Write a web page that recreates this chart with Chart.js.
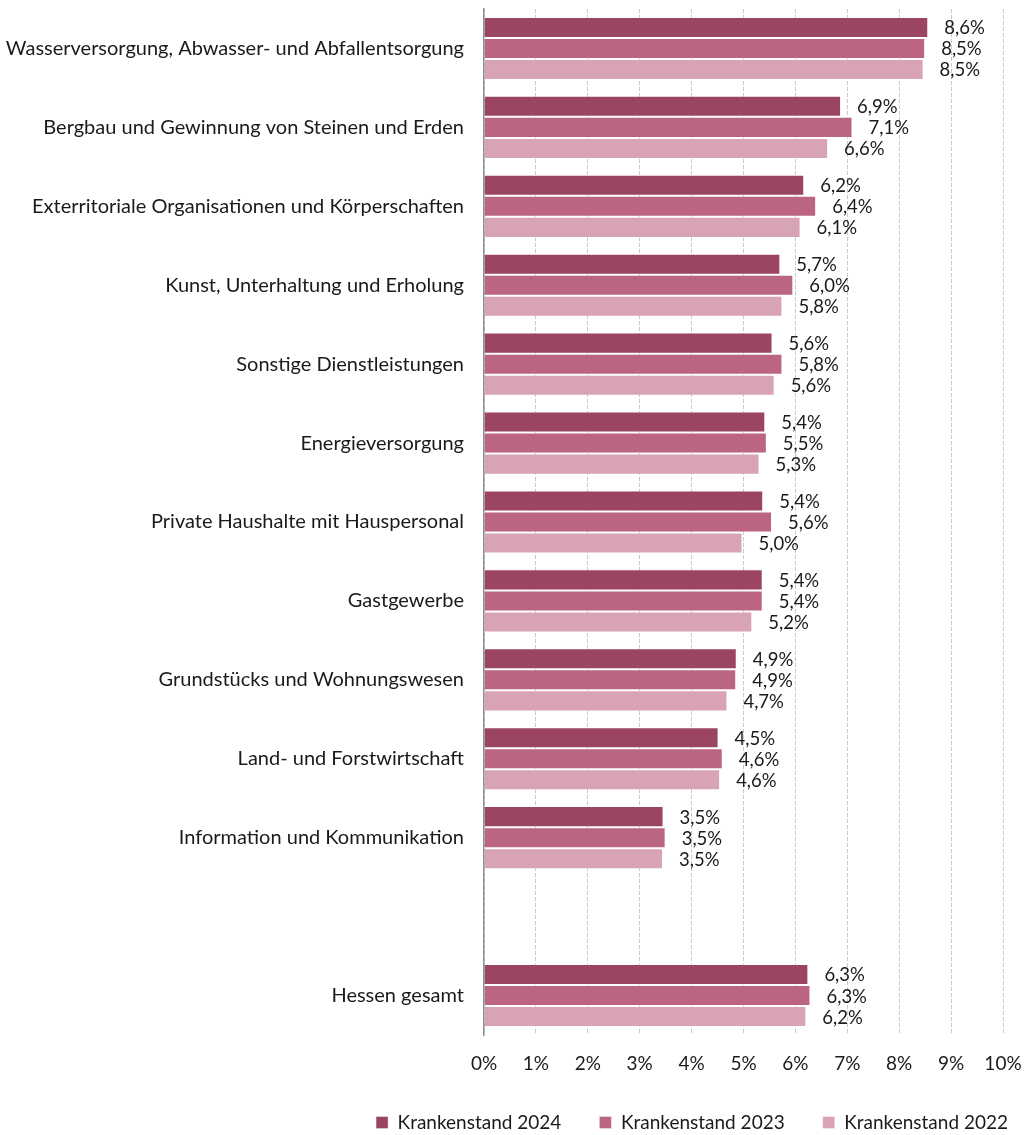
<!DOCTYPE html>
<html>
<head>
<meta charset="utf-8">
<script src="https://cdn.jsdelivr.net/npm/chart.js@4/dist/chart.umd.min.js"></script>
<style>
  html, body { margin: 0; padding: 0; background: #fff; }
  #wrap { width: 1024px; height: 1135px; position: relative; }
</style>
</head>
<body>
<div id="wrap"><canvas id="myChart"></canvas></div>
<script>
const categories = [
    "Wasserversorgung, Abwasser- und Abfallentsorgung",
    "Bergbau und Gewinnung von Steinen und Erden",
    "Exterritoriale Organisationen und Körperschaften",
    "Kunst, Unterhaltung und Erholung",
    "Sonstige Dienstleistungen",
    "Energieversorgung",
    "Private Haushalte mit Hauspersonal",
    "Gastgewerbe",
    "Grundstücks und Wohnungswesen",
    "Land- und Forstwirtschaft",
    "Information und Kommunikation",
    "",
    "Hessen gesamt"
];
const seriesNames = ["Krankenstand 2024", "Krankenstand 2023", "Krankenstand 2022"];
const values2024 = [8.56, 6.88, 6.17, 5.71, 5.56, 5.42, 5.38, 5.37, 4.87, 4.52, 3.46, null, 6.25];
const values2023 = [8.50, 7.10, 6.40, 5.96, 5.75, 5.45, 5.55, 5.37, 4.86, 4.60, 3.50, null, 6.29];
const values2022 = [8.47, 6.63, 6.10, 5.75, 5.60, 5.31, 4.98, 5.17, 4.69, 4.55, 3.45, null, 6.21];
const tickValues = [0, 1, 2, 3, 4, 5, 6, 7, 8, 9, 10];
const barColors = ["#9B4562", "#BC6583", "#D8A3B5"];

const FONT = "Lato, 'Open Sans', sans-serif";

function pct(v){
    return (Math.round(v * 10) / 10).toFixed(1).replace('.', ',') + '%';
}

// draws the value next to the end of every bar
const valueLabels = {
    id: 'valueLabels',
    afterDatasetsDraw(chart){
        const ctx = chart.ctx;
        ctx.save();
        ctx.font = "18.5px " + FONT;
        ctx.fillStyle = "#1a1a1a";
        ctx.textAlign = "left";
        ctx.textBaseline = "middle";
        chart.data.datasets.forEach((ds, i) => {
            const meta = chart.getDatasetMeta(i);
            meta.data.forEach((bar, j) => {
                const v = ds.data[j];
                if (v === null) return;
                ctx.fillText(pct(v), bar.x + 16, bar.y + 1);
            });
        });
        ctx.restore();
    }
};

// push the legend row to the right edge like in the original
const legendShift = {
    id: 'legendShift',
    afterLayout(chart){
        chart.legend.left += 43;
        chart.legend.right += 43;
    }
};

const ctx = document.getElementById('myChart');

new Chart(ctx, {
    type: 'bar',
    data: {
        labels: categories,
        datasets: [
            { label: seriesNames[0], data: values2024, backgroundColor: barColors[0], borderColor: "rgba(255,255,255,0.35)", borderWidth: 1 },
            { label: seriesNames[1], data: values2023, backgroundColor: barColors[1], borderColor: "rgba(255,255,255,0.35)", borderWidth: 1 },
            { label: seriesNames[2], data: values2022, backgroundColor: barColors[2], borderColor: "rgba(255,255,255,0.35)", borderWidth: 1 }
        ]
    },
    options: {
        indexAxis: 'y',
        responsive: true,
        maintainAspectRatio: false,
        animation: false,
        layout: { padding: { top: 9, right: 21, bottom: 0, left: 0 } },
        datasets: { bar: { categoryPercentage: 0.8, barPercentage: 1.0 } },
        scales: {
            x: {
                min: 0,
                max: 10,
                afterBuildTicks: scale => { scale.ticks = tickValues.map(v => ({ value: v })); },
                afterFit: scale => {
                    scale.height = 40;
                    scale.paddingLeft = 0;
                    scale.paddingRight = 0;
                },
                ticks: {
                    callback: v => v + '%',
                    color: "#1a1a1a",
                    font: { family: FONT, size: 19 },
                    padding: 17,
                    maxRotation: 0
                },
                grid: {
                    color: "#C8C8C8",
                    lineWidth: 1,
                    drawTicks: false
                },
                border: { display: false, dash: [4, 2] }
            },
            y: {
                afterFit: scale => {
                    scale.width = 484;
                    scale.paddingTop = 0;
                    scale.paddingBottom = 0;
                },
                ticks: {
                    color: "#1a1a1a",
                    font: { family: FONT, size: 20 },
                    padding: 20,
                    autoSkip: false
                },
                grid: { display: false, drawTicks: false },
                border: { display: true, color: "#8E8EA2", width: 1.5 }
            }
        },
        plugins: {
            legend: {
                display: true,
                position: 'bottom',
                align: 'end',
                maxHeight: 60,
                labels: {
                    boxWidth: 12,
                    boxHeight: 12,
                    padding: 38,
                    color: "#1a1a1a",
                    font: { family: FONT, size: 19 }
                }
            },
            tooltip: { enabled: false }
        }
    },
    plugins: [valueLabels, legendShift]
});
</script>
</body>
</html>
